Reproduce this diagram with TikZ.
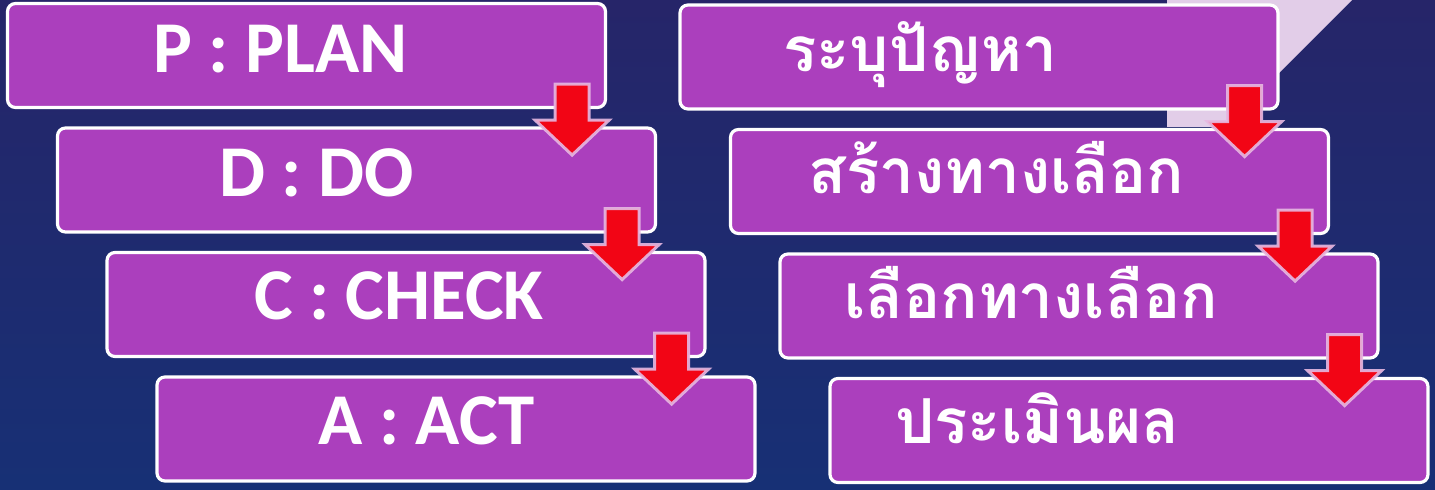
\documentclass[tikz,border=0pt]{standalone}
\usepackage{fontspec}
\usepackage{tikz}
\usetikzlibrary{calc, positioning}
\newfontfamily\latinfont{Carlito}
\newfontfamily\thaifont[Script=Thai]{Loma}
\definecolor{bgTop}{HTML}{262569}
\definecolor{bgBottom}{HTML}{173075}
\definecolor{boxPurple}{HTML}{AB3FBD}
\definecolor{paleLilac}{HTML}{E2CDE8}
\definecolor{arrowRed}{HTML}{F20515}
\definecolor{arrowRim}{HTML}{E6B9E2}

\tikzset{
  stepbox/.style = {draw = white, line width = 1.6pt, fill = boxPurple,
    rounded corners = 4pt, minimum width = 299pt, minimum height = 52pt,
    inner sep = 0pt},
  latinlabel/.style = {text = white, anchor = base, inner sep = 0pt,
    font = \latinfont\bfseries\fontsize{36.5}{40}\selectfont},
  thailabel/.style = {text = white, anchor = base, inner sep = 0pt,
    font = \thaifont\bfseries\fontsize{31}{38}\selectfont},
}

% red block arrow sitting on the lower right corner of a box
\newcommand{\stepArrow}[1]{%
  \coordinate (tmpA) at ($(#1.south east) + (-35, -25)$);
  \fill[arrowRed, draw = arrowRim, draw opacity = 0.9, line width = 1.5pt]
    ($(tmpA) + (-17, 0)$) -- ($(tmpA) + (17, 0)$) -- ($(tmpA) + (17, 36)$)
    -- ($(tmpA) + (37, 36)$) -- ($(tmpA) + (0, 71)$) -- ($(tmpA) + (-37, 36)$)
    -- ($(tmpA) + (-17, 36)$) -- cycle;
}

\begin{document}
\begin{tikzpicture}[x = 0.5pt, y = -0.5pt]
  \useasboundingbox (0, 0) rectangle (1435, 490);

  % ----------
  % background
  % ----------

  \shade[top color = bgTop, bottom color = bgBottom] (0, 0) rectangle (1435, 490);
  \fill[paleLilac] (1167, 0) -- (1352, 0) -- (1225, 127) -- (1167, 127) -- cycle;

  % ---------------
  % PDCA boxes
  % ---------------

  \node[stepbox] (plan)  at (306.5, 55.5) {};
  \node[stepbox] (do)    at (356.5, 180)  {};
  \node[stepbox] (check) at (406, 304.5)  {};
  \node[stepbox] (act)   at (456, 429)    {};

  \node[latinlabel] (planText)  at (280.5, 73)  {P : PLAN};
  \node[latinlabel] (doText)    at (316.5, 197) {D : DO};
  \node[latinlabel] (checkText) at (399, 320)   {C : CHECK};
  \node[latinlabel] (actText)   at (426.5, 445) {A : ACT};

  % ---------------
  % decision boxes
  % ---------------

  \node[stepbox] (define) at (979, 57)    {};
  \node[stepbox] (create) at (1029.5, 181.5) {};
  \node[stepbox] (choose) at (1079, 306)  {};
  \node[stepbox] (assess) at (1129, 430.5) {};

  \node[thailabel] (defineText) at (920, 72)    {ระบุปัญหา};
  \node[thailabel] (createText) at (996.5, 194) {สร้างทางเลือก};
  \node[thailabel] (chooseText) at (1031, 319)  {เลือกทางเลือก};
  \node[thailabel] (assessText) at (1037.5, 444) {ประเมินผล};

  % arrows
  \foreach \stepName in {plan, do, check, define, create, choose} {
    \stepArrow{\stepName}
  }
\end{tikzpicture}
\end{document}
